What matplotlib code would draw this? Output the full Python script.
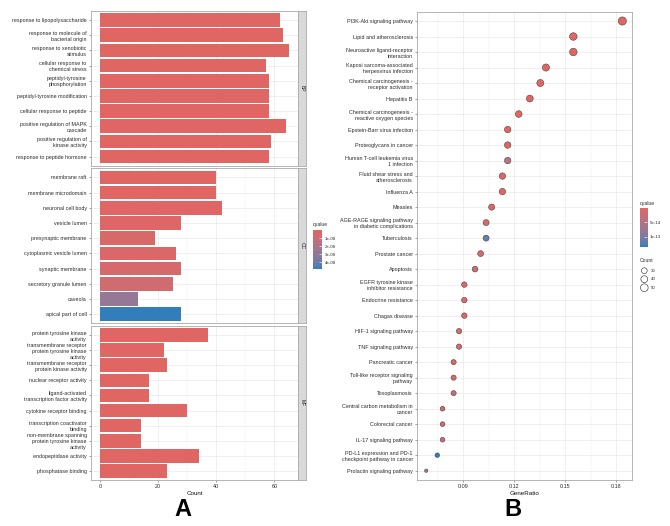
import numpy as np
import matplotlib
matplotlib.use("Agg")
import matplotlib.pyplot as plt
from matplotlib.colors import ListedColormap, Normalize

# ---------------- DATA ----------------
bp_terms = ["response to lipopolysaccharide", "response to molecule of\nbacterial origin",
            "response to xenobiotic\nstimulus", "cellular response to\nchemical stress",
            "peptidyl-tyrosine\nphosphorylation", "peptidyl-tyrosine modification",
            "cellular response to peptide", "positive regulation of MAPK\ncascade",
            "positive regulation of\nkinase activity", "response to peptide hormone"]
bp_counts = [62, 63, 65, 57, 58, 58, 58, 64, 59, 58]
bp_q = [1e-20, 1e-20, 1e-19, 1e-18, 1e-18, 1e-18, 1e-18, 1e-17, 1e-17, 1e-16]

cc_terms = ["membrane raft", "membrane microdomain", "neuronal cell body", "vesicle lumen",
            "presynaptic membrane", "cytoplasmic vesicle lumen", "synaptic membrane",
            "secretory granule lumen", "caveola", "apical part of cell"]
cc_counts = [40, 40, 42, 28, 19, 26, 28, 25, 13, 28]
cc_q = [1e-10, 1e-10, 5e-10, 2e-9, 3.5e-9, 3e-9, 4.5e-9, 7e-9, 2.8e-8, 4.8e-8]

mf_terms = ["protein tyrosine kinase\nactivity", "transmembrane receptor\nprotein tyrosine kinase\nactivity",
            "transmembrane receptor\nprotein kinase activity", "nuclear receptor activity",
            "ligand-activated\ntranscription factor activity", "cytokine receptor binding",
            "transcription coactivator\nbinding", "non-membrane spanning\nprotein tyrosine kinase\nactivity",
            "endopeptidase activity", "phosphatase binding"]
mf_counts = [37, 22, 23, 17, 17, 30, 14, 14, 34, 23]
mf_q = [1e-15, 1e-14, 1e-14, 1e-13, 1e-13, 1e-13, 1e-12, 1e-12, 1e-12, 1e-12]

kegg_terms = ["PI3K-Akt signaling pathway", "Lipid and atherosclerosis",
              "Neuroactive ligand-receptor\ninteraction", "Kaposi sarcoma-associated\nherpesvirus infection",
              "Chemical carcinogenesis -\nreceptor activation", "Hepatitis B",
              "Chemical carcinogenesis -\nreactive oxygen species", "Epstein-Barr virus infection",
              "Proteoglycans in cancer", "Human T-cell leukemia virus\n1 infection",
              "Fluid shear stress and\natherosclerosis", "Influenza A", "Measles",
              "AGE-RAGE signaling pathway\nin diabetic complications", "Tuberculosis",
              "Prostate cancer", "Apoptosis", "EGFR tyrosine kinase\ninhibitor resistance",
              "Endocrine resistance", "Chagas disease", "HIF-1 signaling pathway",
              "TNF signaling pathway", "Pancreatic cancer", "Toll-like receptor signaling\npathway",
              "Toxoplasmosis", "Central carbon metabolism in\ncancer", "Colorectal cancer",
              "IL-17 signaling pathway", "PD-L1 expression and PD-1\ncheckpoint pathway in cancer",
              "Prolactin signaling pathway"]
kegg_ratio = [0.1835, 0.1547, 0.1547, 0.1386, 0.1353, 0.1291, 0.1226, 0.1161, 0.1161, 0.1161,
              0.1130, 0.1130, 0.1067, 0.1034, 0.1034, 0.1002, 0.0969, 0.0906, 0.0906, 0.0906,
              0.0875, 0.0875, 0.0843, 0.0843, 0.0843, 0.0778, 0.0778, 0.0778, 0.0747, 0.0682]
kegg_count = [57, 48, 48, 43, 42, 40, 38, 36, 36, 36, 35, 35, 33, 32, 32, 31, 30, 28, 28, 28,
              27, 27, 26, 26, 26, 24, 24, 24, 23, 21]
kegg_q = [1e-30, 1e-25, 1e-22, 1e-20, 1e-19, 1e-18, 1e-17, 1e-16, 5e-16, 4.5e-14,
          2e-16, 1e-15, 3e-15, 8e-15, 1.15e-13, 1e-14, 1.5e-14, 5e-15, 5e-15, 8e-15,
          1e-14, 1.2e-14, 1e-14, 1.8e-14, 3.5e-14, 1.5e-14, 1.5e-14, 3.5e-14, 1.36e-13, 5e-14]

cbarA_ticks = [1e-8, 2e-8, 3e-8, 4e-8]
cbarB_ticks = [5e-14, 1e-13]
size_legend = [30, 40, 50]

# ---------------- STYLE ----------------
plt.rcParams['font.family'] = ['Liberation Sans', 'DejaVu Sans']
W, H = 670, 526
fig = plt.figure(figsize=(W / 100, H / 100), dpi=100)
LOW, HIGH = "#e06663", "#327eba"
TXT = "#2b2b2b"
GRID = "#EBEBEB"
BORDER = "#A8A8A8"
TS = 3.9
LS = 1.25


def rect(x0, y0, x1, y1):
    return [x0 / W, 1 - y1 / H, (x1 - x0) / W, (y1 - y0) / H]


# Lab interpolation as in ggplot's gradient
Mx = np.array([[0.4124564, 0.3575761, 0.1804375],
               [0.2126729, 0.7151522, 0.0721750],
               [0.0193339, 0.1191920, 0.9503041]])
WHITE = np.array([0.95047, 1.0, 1.08883])


def hex2rgb(h):
    return np.array([int(h[i:i + 2], 16) / 255 for i in (1, 3, 5)])


def rgb2lab(rgb):
    lin = np.where(rgb <= 0.04045, rgb / 12.92, ((rgb + 0.055) / 1.055) ** 2.4)
    xyz = Mx @ lin / WHITE
    d = 6 / 29
    fx, fy, fz = np.where(xyz > d ** 3, np.cbrt(xyz), xyz / (3 * d * d) + 4 / 29)
    return np.array([116 * fy - 16, 500 * (fx - fy), 200 * (fy - fz)])


def lab2rgb(lab):
    L, a, b = lab
    fy = (L + 16) / 116
    fx = fy + a / 500
    fz = fy - b / 200
    d = 6 / 29
    f = np.array([fx, fy, fz])
    xyz = np.where(f > d, f ** 3, 3 * d * d * (f - 4 / 29)) * WHITE
    lin = np.clip(np.linalg.inv(Mx) @ xyz, 0, 1)
    return np.where(lin <= 0.0031308, 12.92 * lin, 1.055 * lin ** (1 / 2.4) - 0.055)


la, lb = rgb2lab(hex2rgb(LOW)), rgb2lab(hex2rgb(HIGH))
cm = ListedColormap([np.clip(lab2rgb((1 - t) * la + t * lb), 0, 1) for t in np.linspace(0, 1, 256)])


def style_axes(ax):
    for s in ax.spines.values():
        s.set_color(BORDER)
        s.set_linewidth(0.6)
    ax.tick_params(axis='both', which='major', length=1.6, width=0.4, color="#555555",
                   labelsize=TS, labelcolor=TXT, pad=1.2)
    ax.tick_params(axis='both', which='minor', length=0)
    ax.grid(True, which='major', color=GRID, linewidth=0.55)
    ax.grid(True, which='minor', axis='x', color=GRID, linewidth=0.3)
    ax.set_axisbelow(True)


# ---------------- PANEL A ----------------
allq = np.array(bp_q + cc_q + mf_q)
normA = Normalize(vmin=allq.min(), vmax=allq.max())
facets = [(bp_terms, bp_counts, bp_q, "BP", 11, 165.7),
          (cc_terms, cc_counts, cc_q, "CC", 168.3, 323.3),
          (mf_terms, mf_counts, mf_q, "MF", 326, 480)]
for i, (terms, counts, qv, lab, y0, y1) in enumerate(facets):
    ax = fig.add_axes(rect(90.6, y0, 298.3, y1))
    n = len(terms)
    y = np.arange(1, n + 1)
    ax.barh(y, counts, height=0.9, color=cm(normA(np.array(qv))))
    ax.set_ylim(n + 0.6, 0.4)
    ax.set_xlim(-3.25, 68.25)
    ax.set_yticks(y)
    ax.set_yticklabels(terms, linespacing=LS)
    ax.set_xticks([0, 20, 40, 60])
    ax.set_xticks([10, 30, 50], minor=True)
    style_axes(ax)
    if i < 2:
        ax.tick_params(axis='x', which='major', length=0, labelbottom=False)
    else:
        ax.set_xlabel("Count", fontsize=4.5, color="#111111", labelpad=1.5)
    sax = fig.add_axes(rect(298.3, y0, 306, y1))
    sax.set_facecolor("#D9D9D9")
    sax.set_xticks([])
    sax.set_yticks([])
    for s in sax.spines.values():
        s.set_color(BORDER)
        s.set_linewidth(0.6)
    sax.text(0.5, 0.5, lab, rotation=-90, ha='center', va='center', fontsize=3.6,
             color="#1A1A1A", transform=sax.transAxes)

# colorbar A
fig.text(313 / W, 1 - 225 / H, "qvalue", fontsize=3.6, color=TXT, ha='left', va='center')
cax = fig.add_axes(rect(313, 230, 322, 269))
grad = np.linspace(normA.vmin, normA.vmax, 256).reshape(-1, 1)
cax.imshow(grad, aspect='auto', cmap=cm, norm=normA, origin='lower',
           extent=[0, 1, normA.vmin, normA.vmax])
cax.set_ylim(normA.vmax, normA.vmin)
cax.set_xticks([])
cax.yaxis.tick_right()
cax.set_yticks(cbarA_ticks)
cax.set_yticklabels(["%.0e" % v for v in cbarA_ticks])
cax.tick_params(axis='y', length=2, width=0.4, color="white", direction='in',
                labelsize=3.2, labelcolor=TXT, pad=2)
for s in cax.spines.values():
    s.set_visible(False)

# ---------------- PANEL B ----------------
axb = fig.add_axes(rect(416.7, 11.7, 632, 480))
nb = len(kegg_terms)
yb = np.arange(1, nb + 1)
qb = np.array(kegg_q)
normB = Normalize(vmin=qb.min(), vmax=qb.max())
cmin, cmax = min(kegg_count), max(kegg_count)


def size_of(c):
    d = 3.4 + (8.2 - 3.4) * np.sqrt((np.array(c, float) - cmin) / (cmax - cmin))
    return (d * 0.72) ** 2


axb.scatter(kegg_ratio, yb, s=size_of(kegg_count), c=cm(normB(qb)), edgecolors="#3a3a3a",
            linewidths=0.35, zorder=3)
axb.set_ylim(nb + 0.6, 0.4)
axb.set_xlim(0.0626, 0.1892)
axb.set_yticks(yb)
axb.set_yticklabels(kegg_terms, linespacing=LS)
axb.set_xticks([0.09, 0.12, 0.15, 0.18])
axb.set_xticklabels(["0.09", "0.12", "0.15", "0.18"])
axb.set_xticks([0.075, 0.105, 0.135, 0.165], minor=True)
style_axes(axb)
axb.set_xlabel("GeneRatio", fontsize=4.5, color="#111111", labelpad=1.5)

# colorbar B
fig.text(640 / W, 1 - 203 / H, "qvalue", fontsize=3.6, color=TXT, ha='left', va='center')
cbx = fig.add_axes(rect(640, 207.7, 647.3, 247.3))
gradb = np.linspace(normB.vmin, normB.vmax, 256).reshape(-1, 1)
cbx.imshow(gradb, aspect='auto', cmap=cm, norm=normB, origin='lower',
           extent=[0, 1, normB.vmin, normB.vmax])
cbx.set_ylim(normB.vmax, normB.vmin)
cbx.set_xticks([])
cbx.yaxis.tick_right()
cbx.set_yticks(cbarB_ticks)
cbx.set_yticklabels(["5e-14", "1e-13"])
cbx.tick_params(axis='y', length=2, width=0.4, color="white", direction='in',
                labelsize=3.2, labelcolor=TXT, pad=2)
for s in cbx.spines.values():
    s.set_visible(False)

# size legend B
fig.text(640 / W, 1 - 260 / H, "Count", fontsize=3.6, color=TXT, ha='left', va='center')
lax = fig.add_axes(rect(636, 264, 668, 294))
lax.set_xlim(636, 668)
lax.set_ylim(294, 264)
lax.axis('off')
ly = [270.7, 279.2, 287.7]
lax.scatter([644.3] * 3, ly, s=size_of(size_legend), facecolors='white', edgecolors="#222222",
            linewidths=0.4, clip_on=False)
for v, yy in zip(size_legend, ly):
    lax.text(651, yy, str(v), fontsize=3.2, color=TXT, ha='left', va='center')

# Panel letters
fig.text(183.3 / W, 1 - 510 / H, "A", fontsize=17, fontweight='bold', ha='center', va='center')
fig.text(513.3 / W, 1 - 510 / H, "B", fontsize=17, fontweight='bold', ha='center', va='center')

fig.savefig("out.png", dpi=100, facecolor='white')
